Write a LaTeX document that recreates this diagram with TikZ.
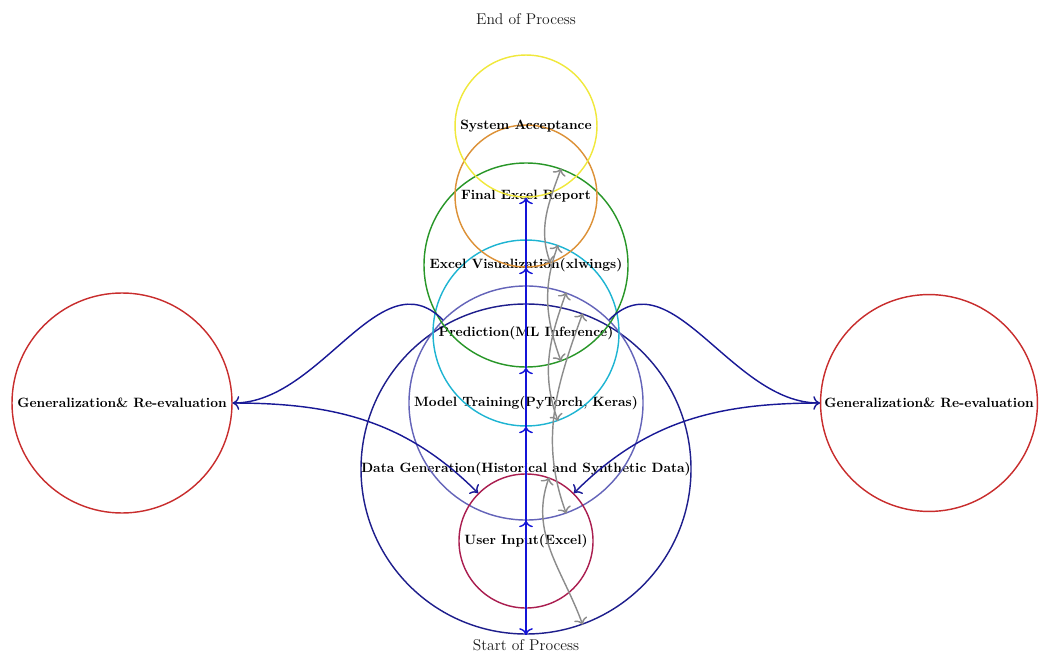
\documentclass[tikz,border=0pt]{standalone}
\usetikzlibrary{arrows.meta}
\definecolor{userc}{RGB}{170,30,80}
\definecolor{datac}{RGB}{30,30,140}
\definecolor{modelc}{RGB}{100,100,185}
\definecolor{predc}{RGB}{30,180,210}
\definecolor{visc}{RGB}{40,150,40}
\definecolor{finalc}{RGB}{220,145,55}
\definecolor{sysc}{RGB}{240,232,60}
\definecolor{genc}{RGB}{200,45,45}
\definecolor{vlinec}{RGB}{20,20,215}
\definecolor{navyc}{RGB}{25,25,150}
\definecolor{grayc}{RGB}{140,140,140}
\begin{document}
\begin{tikzpicture}[x=0.77pt,y=-0.77pt,
  >={To[scale=1.25]},
  proc/.style={circle, draw=#1, line width=1.1pt, inner sep=0pt,
    font=\bfseries\fontsize{10.4}{12}\selectfont, text=black},
  plabel/.style={font=\large, text=black!90, inner sep=1pt},
  vline/.style={draw=vlinec, line width=1.1pt, ->},
  navyarrow/.style={draw=navyc, line width=1.1pt, ->},
  grayarrow/.style={draw=grayc, line width=1.1pt, <->}]
\useasboundingbox (0,0) rectangle (1040,653);
\node[proc=datac, minimum size=254.1pt] (data) at (526,469) {Data Generation(Historical and Synthetic Data)};
\node[proc=modelc, minimum size=180.2pt] (model) at (526,403) {Model Training(PyTorch, Keras)};
\node[proc=predc, minimum size=143.2pt] (pred) at (526,333) {Prediction(ML Inference)};
\node[proc=visc, minimum size=157.1pt] (vis) at (526,265) {Excel Visualization(xlwings)};
\node[proc=finalc, minimum size=109.3pt] (final) at (526,196) {Final Excel Report};
\node[proc=sysc, minimum size=109.3pt] (sys) at (526,126) {System Acceptance};
\node[proc=userc, minimum size=103.2pt] (user) at (526,541) {User Input(Excel)};
\node[proc=genc, minimum size=169.4pt] (genL) at (122,403) {Generalization\& Re-evaluation};
\node[proc=genc, minimum size=167pt] (genR) at (929,403) {Generalization\& Re-evaluation};
\node[plabel] (endp) at (526,19) {End of Process};
\node[plabel] (startp) at (526,645) {Start of Process};
% vertical chain
\draw[vline] (user.north) -- (data.south);
\draw[vline] (data.south) -- (model.south);
\draw[vline] (model.south) -- (pred.south);
\draw[vline] (pred.south) -- (vis.south);
\draw[vline] (vis.south) -- (final.south);
\draw[vline] (final.south) -- (sys.south);
% side loops
\draw[navyarrow] (model) to[out=135,in=0] (genL);
\draw[navyarrow] (model) to[out=45,in=180] (genR);
\draw[navyarrow] (genL) to[out=0,in=135] (user);
\draw[navyarrow] (genR) to[out=180,in=45] (user);
% gray feedback curves
\draw[grayarrow] (user.70) to[out=250,in=110] (data.290);
\draw[grayarrow] (data.70) to[out=250,in=110] (model.290);
\draw[grayarrow] (model.70) to[out=250,in=110] (pred.290);
\draw[grayarrow] (pred.70) to[out=250,in=110] (vis.290);
\draw[grayarrow] (vis.70) to[out=250,in=110] (final.290);
\end{tikzpicture}
\end{document}
